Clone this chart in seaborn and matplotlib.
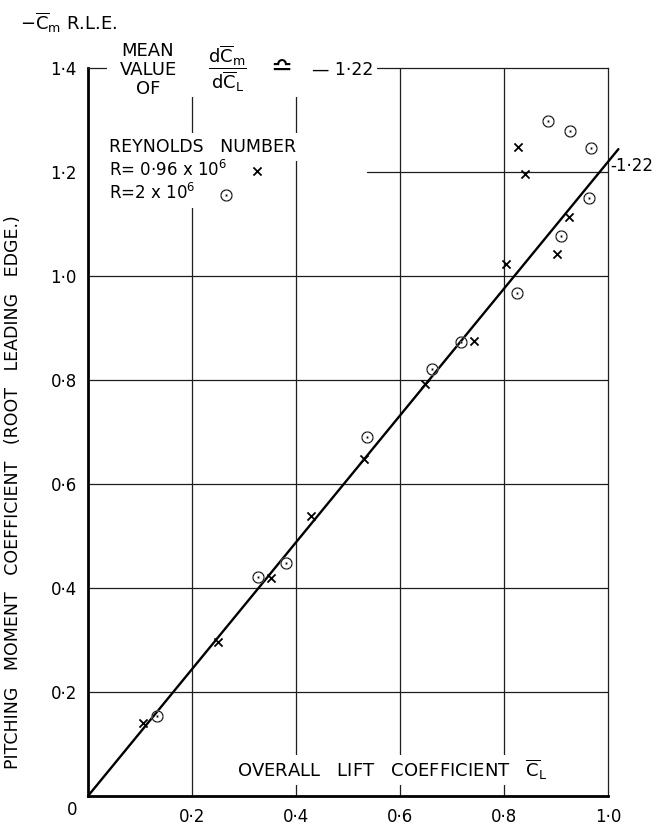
import matplotlib
matplotlib.use("Agg")
import matplotlib.pyplot as plt
import seaborn as sns
from matplotlib.patches import Rectangle

# ---- data ----
cross_x = [0.106, 0.250, 0.352, 0.429, 0.531, 0.648, 0.742, 0.804, 0.827, 0.840, 0.902, 0.925]
cross_y = [0.140, 0.297, 0.420, 0.539, 0.649, 0.793, 0.875, 1.023, 1.248, 1.196, 1.042, 1.113]

circle_x = [0.132, 0.327, 0.381, 0.537, 0.662, 0.717, 0.825, 0.885, 0.910, 0.927, 0.963, 0.967]
circle_y = [0.154, 0.422, 0.449, 0.691, 0.821, 0.873, 0.967, 1.299, 1.077, 1.278, 1.150, 1.246]

fit_x = [0.0, 1.02]
fit_y = [0.0, 1.244]

x_ticks = [0.2, 0.4, 0.6, 0.8, 1.0]
x_labels = ["0·2", "0·4", "0·6", "0·8", "1·0"]
y_ticks = [0.2, 0.4, 0.6, 0.8, 1.0, 1.2, 1.4]
y_labels = ["0·2", "0·4", "0·6", "0·8", "1·0", "1·2", "1·4"]

label_low = "R= 0·96 x 10$^6$"
label_high = "R=2 x 10$^6$"

sns.set_theme(style="white")
plt.rcParams["font.family"] = ["DejaVu Sans"]
plt.rcParams["mathtext.fontset"] = "dejavusans"
for k in ["text.color", "axes.labelcolor", "xtick.color", "ytick.color"]:
    plt.rcParams[k] = "black"

fig = plt.figure(figsize=(6.64, 8.27), dpi=100)
ax = fig.add_axes([88 / 664, 1 - 796 / 827, 520 / 664, 728 / 827])

ax.set_xlim(0, 1.0)
ax.set_ylim(0, 1.4)

gcol = "#1e1e1e"
for v in x_ticks[:-1]:
    ax.axvline(v, color=gcol, lw=0.9, zorder=1)
for v in y_ticks[:5]:
    ax.axhline(v, color=gcol, lw=0.9, zorder=1)
ax.axhline(y_ticks[5], xmin=0.537, xmax=1.0, color=gcol, lw=0.9, zorder=1)

# fitted line
sns.lineplot(x=fit_x, y=fit_y, color="black", lw=1.7, ax=ax, zorder=3)
ax.lines[-1].set_clip_on(False)

# data
sns.scatterplot(x=cross_x, y=cross_y, marker="x", s=34, color="black",
                linewidth=1.3, ax=ax, label=label_low, zorder=4)
sns.scatterplot(x=circle_x, y=circle_y, marker="$\\odot$", s=80, color="black",
                linewidth=0.2, ax=ax, label=label_high, zorder=4)

# spines
for s in ["left", "bottom"]:
    ax.spines[s].set_linewidth(2.0)
    ax.spines[s].set_color("black")
for s in ["top", "right"]:
    ax.spines[s].set_linewidth(0.9)
    ax.spines[s].set_color(gcol)

ax.set_xticks(x_ticks)
ax.set_xticklabels(x_labels, fontsize=12)
ax.set_yticks(y_ticks)
ax.set_yticklabels(y_labels, fontsize=12)
ax.tick_params(axis="both", length=0, colors="black")
ax.tick_params(axis="x", pad=9)
ax.tick_params(axis="y", pad=8)
ax.text(-0.031, -0.027, "0", ha="center", va="center", fontsize=12)

ax.set_ylabel("PITCHING   MOMENT   COEFFICIENT   (ROOT   LEADING   EDGE.)",
              fontsize=12.5, color="black")
ax.yaxis.set_label_coords(-0.127, 0.418)

ax.text(0.585, 0.05, "OVERALL   LIFT   COEFFICIENT   $\\overline{\\mathrm{C}}_{\\mathrm{L}}$",
        ha="center", va="center", fontsize=13, zorder=5,
        bbox=dict(facecolor="white", edgecolor="none", pad=2))

ax.text(1.004, 1.212, "-1·22", ha="left", va="center", fontsize=12, clip_on=False)

leg = ax.legend(title="REYNOLDS   NUMBER", markerfirst=False, loc="upper left",
                bbox_to_anchor=((106 - 88) / 520, (796 - 135) / 728),
                fontsize=12, title_fontsize=12.5, frameon=False,
                handlelength=0.8, handletextpad=1.4, labelspacing=0.2,
                borderpad=0.2, borderaxespad=0, alignment="left")
for col in leg._legend_handle_box.get_children():
    col.align = "left"
for t in leg.get_texts():
    t.set_color("black")
    t.set_bbox(dict(facecolor="white", edgecolor="none", pad=3.5))
leg.get_title().set_color("black")
leg.get_title().set_bbox(dict(facecolor="white", edgecolor="none", pad=3.5))
leg.set_zorder(5)

# white mask for header over the top frame
ax.add_patch(Rectangle((0.037, 1.345), 0.519, 0.12, facecolor="white",
                       edgecolor="none", zorder=2.7, clip_on=False))

# header texts
fig.text(20 / 664, 1 - 23 / 827,
         "$-\\overline{\\mathrm{C}}_{\\mathrm{m}}$ R.L.E.", ha="left", va="center",
         fontsize=13)
fig.text(148 / 664, 1 - 70 / 827, "MEAN\nVALUE\nOF", ha="center", va="center",
         fontsize=13, linespacing=1.05, zorder=5)
fig.text(227 / 664, 1 - 69 / 827,
         "$\\dfrac{\\mathrm{d}\\overline{\\mathrm{C}}_{\\mathrm{m}}}{\\mathrm{d}\\overline{\\mathrm{C}}_{\\mathrm{L}}}$",
         ha="center", va="center", fontsize=13, zorder=5)
fig.text(281 / 664, 1 - 68 / 827, "≏", ha="center", va="center", fontsize=19, zorder=5)
fig.text(312 / 664, 1 - 70 / 827, "— 1·22", ha="left", va="center", fontsize=12.5, zorder=5)

fig.savefig("out.png", dpi=100, facecolor="white")
